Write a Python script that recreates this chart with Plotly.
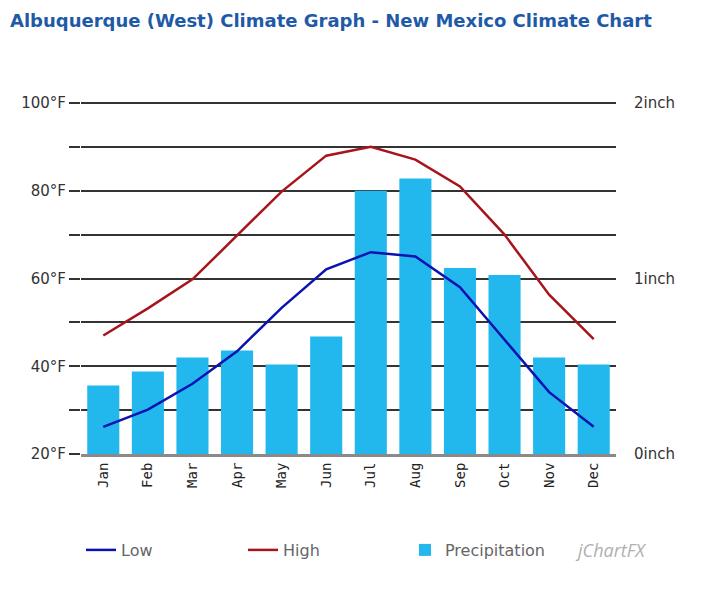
import plotly.graph_objects as go

months = ["Jan", "Feb", "Mar", "Apr", "May", "Jun", "Jul", "Aug", "Sep", "Oct", "Nov", "Dec"]
low_f = [26.2, 30.1, 36.0, 43.4, 53.3, 62.1, 66.0, 65.0, 58.0, 46.0, 34.1, 26.2]
high_f = [47.0, 53.2, 59.8, 69.7, 79.8, 88.0, 90.0, 87.1, 81.0, 70.0, 56.3, 46.2]
precip_in = [0.39, 0.47, 0.55, 0.59, 0.51, 0.67, 1.50, 1.57, 1.06, 1.02, 0.55, 0.51]

temp_ticks = [20, 30, 40, 50, 60, 70, 80, 90, 100]
temp_labels = ["20°F", "", "40°F", "", "60°F", "", "80°F", "", "100°F"]
rain_ticks = [0, 0.25, 0.5, 0.75, 1, 1.25, 1.5, 1.75, 2]
rain_labels = ["0inch", "", "", "", "1inch", "", "", "", "2inch"]

# page body has an 8px margin, so the figure is laid out in shifted coordinates
W, H = 696, 584
L, R, T, B = 73, 88, 93, 138
plot_h = H - T - B
ext = plot_h / (plot_h - 2)  # keep the top gridline 2px inside the plot

fig = go.Figure()
fig.add_trace(go.Scatter(x=months, y=low_f, name="Low", mode="lines", yaxis="y2",
                         line=dict(color="#0A12B0", width=2.5)))
fig.add_trace(go.Scatter(x=months, y=high_f, name="High", mode="lines", yaxis="y2",
                         line=dict(color="#A8141C", width=2.5)))
fig.add_trace(go.Bar(x=months, y=precip_in, name="Precipitation", yaxis="y",
                     marker=dict(color="#22B8EE", line=dict(width=0)), width=0.72))

fig.update_layout(
    width=W, height=H,
    margin=dict(l=L, r=R, t=T, b=B, autoexpand=False),
    paper_bgcolor="white", plot_bgcolor="white",
    title=dict(text="<b>Albuquerque (West) Climate Graph - New Mexico Climate Chart</b>",
               x=2 / W, xanchor="left", y=1 - 13 / H, yanchor="middle",
               font=dict(family="DejaVu Sans", size=18, color="#1F5AA8")),
    font=dict(family="DejaVu Sans", size=12, color="#222"),
    xaxis=dict(type="category", range=[-0.5, 11.5], tickangle=-90, showgrid=False,
               showline=True, linecolor="#8a8a8a", linewidth=3, ticks="",
               tickfont=dict(family="DejaVu Sans Mono", size=14, color="#222")),
    yaxis=dict(range=[0, 2 * ext], tickvals=rain_ticks, ticktext=rain_labels,
               side="right", showgrid=True, gridcolor="#333", gridwidth=2, zeroline=False,
               ticks="outside", ticklen=14, tickcolor="rgba(0,0,0,0)",
               tickfont=dict(family="DejaVu Sans", size=15, color="#333")),
    yaxis2=dict(range=[20, 20 + 80 * ext], tickvals=temp_ticks, ticktext=temp_labels,
                overlaying="y", side="left", showgrid=False, zeroline=False,
                ticks="outside", ticklen=11, tickwidth=2, tickcolor="#333",
                tickfont=dict(family="DejaVu Sans", size=15, color="#333")),
    legend=dict(orientation="h", x=0.0, xanchor="left", y=-96 / plot_h, yanchor="middle",
                entrywidth=117, entrywidthmode="pixels", traceorder="normal",
                font=dict(family="DejaVu Sans", size=16, color="#666")),
    showlegend=True,
)
fig.add_annotation(text="<i>jChartFX</i>", xref="paper", yref="paper",
                   x=(565 - L) / (W - L - R), y=-96 / plot_h, xanchor="left", yanchor="middle",
                   showarrow=False,
                   font=dict(family="Open Sans", size=18, color="#b0b0b0"))

fig.write_html("out.html")
